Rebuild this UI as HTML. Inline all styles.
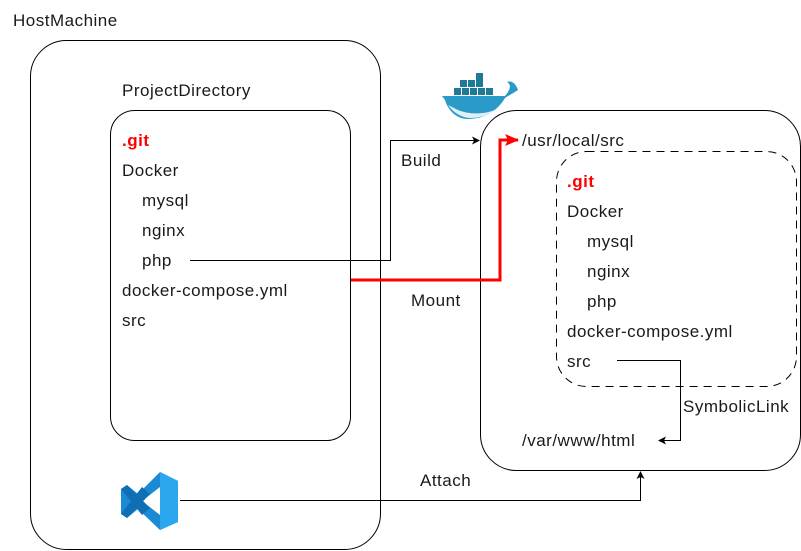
<!DOCTYPE html>
<html><head><meta charset="utf-8"><style>
html,body{margin:0;padding:0;background:#fff;}
svg{display:block;}
text{font-family:"Liberation Sans",sans-serif;font-size:17px;letter-spacing:0.5px;fill:#1a1a1a;}
.r{fill:#f00;font-weight:bold;}
</style></head><body>
<svg width="801" height="551" viewBox="0 0 801 551" xmlns="http://www.w3.org/2000/svg">
<defs>
<marker id="a" markerWidth="8" markerHeight="8" refX="7" refY="4" orient="auto" markerUnits="userSpaceOnUse"><path d="M0,0 L8,4 L0,8 L2,4 Z" fill="#000"/></marker>
<marker id="ar" markerWidth="14" markerHeight="12" refX="13" refY="6" orient="auto" markerUnits="userSpaceOnUse"><path d="M0,0 L14,6 L0,12 L3,6 Z" fill="#f00"/></marker>
</defs>
<text x="13" y="26">HostMachine</text>
<rect x="30.5" y="40.5" width="350" height="509" rx="36" fill="none" stroke="#000"/>
<text x="122" y="96">ProjectDirectory</text>
<rect x="110.5" y="110.5" width="240" height="330" rx="24" fill="none" stroke="#000"/>
<text x="122" y="146" class="r">.git</text>
<text x="122" y="176">Docker</text>
<text x="142" y="206">mysql</text>
<text x="142" y="236">nginx</text>
<text x="142" y="266">php</text>
<text x="122" y="296">docker-compose.yml</text>
<text x="122" y="326">src</text>

<rect x="480.5" y="110.5" width="320" height="360" rx="36" fill="none" stroke="#000"/>
<text x="522" y="146">/usr/local/src</text>
<rect x="556.5" y="151.5" width="240" height="235" rx="30" fill="none" stroke="#000" stroke-dasharray="8,6"/>
<text x="567" y="187" class="r">.git</text>
<text x="567" y="217">Docker</text>
<text x="587" y="247">mysql</text>
<text x="587" y="277">nginx</text>
<text x="587" y="307">php</text>
<text x="567" y="337">docker-compose.yml</text>
<text x="567" y="367">src</text>
<text x="522" y="446">/var/www/html</text>

<path d="M190,260.5 H390.5 V140.5 H479" fill="none" stroke="#000" marker-end="url(#a)"/>
<text x="401" y="166">Build</text>
<path d="M351,280 H500 V140 H518" fill="none" stroke="#f00" stroke-width="3" marker-end="url(#ar)"/>
<text x="411" y="306">Mount</text>
<path d="M617,360.5 H680.5 V440.5 H659" fill="none" stroke="#000" marker-end="url(#a)"/>
<text x="683" y="412">SymbolicLink</text>
<path d="M180,500.5 H640.5 V472" fill="none" stroke="#000" marker-end="url(#a)"/>
<text x="420" y="486">Attach</text>

<g>
<rect x="476" y="73" width="7" height="7" fill="#1f7a99"/>
<rect x="460" y="80" width="7" height="7" fill="#1f7a99"/>
<rect x="468" y="80" width="7" height="7" fill="#1f7a99"/>
<rect x="476" y="80" width="7" height="7" fill="#1f7a99"/>
<rect x="454" y="88" width="7" height="7" fill="#1f7a99"/>
<rect x="462" y="88" width="7" height="7" fill="#1f7a99"/>
<rect x="470" y="88" width="7" height="7" fill="#1f7a99"/>
<rect x="478" y="88" width="7" height="7" fill="#1f7a99"/>
<rect x="486" y="88" width="7" height="7" fill="#1f7a99"/>
<path d="M442,96 H505 C510,90 512,85 507,82 C512,80 516,84 518,90 C512,94 508,96 505,98 C497,112 482,119 468,119 C456,119 448,110 445,100 Z" fill="#2a9bc9"/>
<path d="M448,105 C455,115 465,118 470,118 C480,118 488,115 495,110 C485,114 470,115 458,110 Z" fill="#dff0f7"/>
</g>
<g>
<path d="M160,472 L178,481 V522 L160,530 L138,509 L127,518 L121,514 V489 L127,485 L138,494 Z" fill="#1a8ad4"/>
<path d="M160,472 L178,481 V522 L160,530 Z" fill="#2ba7ef"/>
<path d="M160,487 V515 L142,501 Z" fill="#fff"/>
<path d="M121,489 L127,485 L150,508 L142,515 Z" fill="#0f6fb5"/>
<path d="M121,514 L127,518 L150,494 L142,487 Z" fill="#0f6fb5"/>
</g>
</svg>
</body></html>
